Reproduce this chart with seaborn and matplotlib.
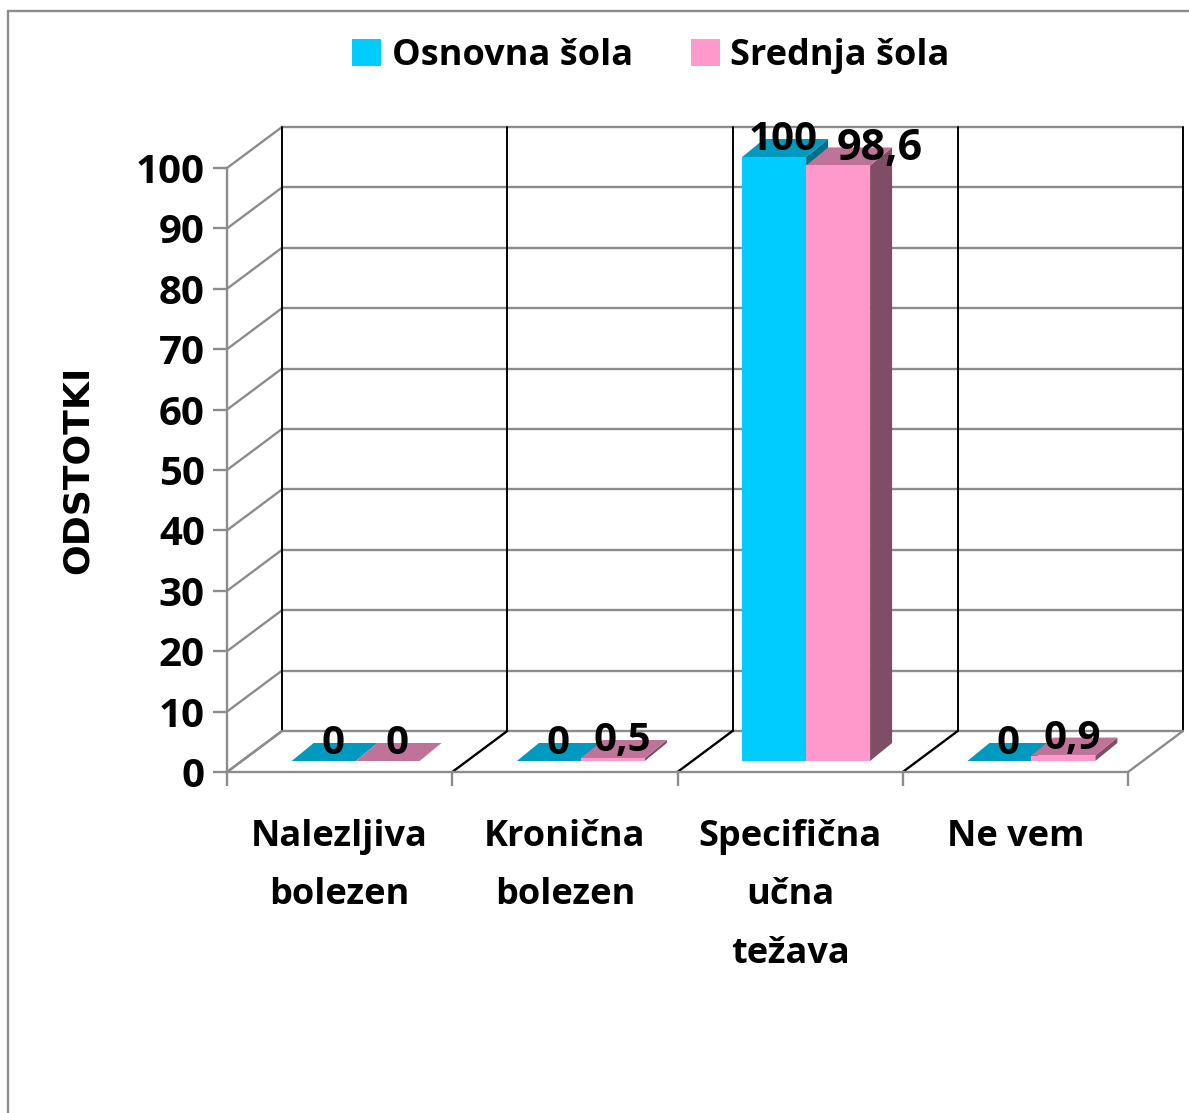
import pandas as pd
import seaborn as sns
import matplotlib.pyplot as plt
from matplotlib.lines import Line2D
from matplotlib.patches import Polygon
from matplotlib.transforms import Affine2D, IdentityTransform

# values
categories = ['Nalezljiva\nbolezen', 'Kronična\nbolezen', 'Specifična\nučna\ntežava', 'Ne vem']
osnovna = [0, 0, 100, 0]
srednja = [0, 0.5, 98.6, 0.9]
series_names = ['Osnovna šola', 'Srednja šola']
y_ticks = list(range(0, 101, 10))

colors = ['#00CCFF', '#FF99CC']
top_colors = ['#0099BF', '#BF7399']
side_colors = ['#006F8A', '#804D66']
GREY = '#8C8C8C'

sns.set_theme(style='white')
plt.rcParams['font.family'] = ['Open Sans', 'DejaVu Sans']
plt.rcParams['font.weight'] = 'bold'
plt.rcParams['text.color'] = 'black'

W, H = 1189, 1113
fig = plt.figure(figsize=(W / 100, H / 100), dpi=100)
ax = fig.add_axes([227 / W, (H - 772) / H, 901 / W, 604 / H])

df = pd.DataFrame({
    'kategorija': categories * 2,
    'odstotek': osnovna + srednja,
    'sola': [series_names[0]] * 4 + [series_names[1]] * 4,
})
sns.barplot(data=df, x='kategorija', y='odstotek', hue='sola', hue_order=series_names,
            palette=colors, saturation=1, width=0.568, gap=0, ax=ax, linewidth=0)

ax.set_xlim(-0.5, 3.5)
ax.set_ylim(0, 100)
ax.patch.set_alpha(0)
for s in ['top', 'right']:
    ax.spines[s].set_visible(False)
for s in ['left', 'bottom']:
    ax.spines[s].set_color(GREY)
    ax.spines[s].set_linewidth(1.7)

# the 3D look: depth in pixels of the walls and the bars
pixel = IdentityTransform()
wall_dx, wall_dy = 55, 41
back = ax.transData + Affine2D().translate(wall_dx, wall_dy)
front_bar = ax.transData + Affine2D().translate(16, 11)
bar_dx, bar_dy = 22, 18

# back wall and left wall
for t in y_ticks:
    ax.plot([-0.5, 3.5], [t, t], color=GREY, lw=1.7, transform=back, clip_on=False, zorder=1)
    x0, y0 = ax.transData.transform((-0.5, t))
    ax.plot([x0, x0 + wall_dx], [y0, y0 + wall_dy], color=GREY, lw=1.7, transform=pixel,
            clip_on=False, zorder=1)

# category walls and floor
for b in [-0.5, 0.5, 1.5, 2.5, 3.5]:
    ax.plot([b, b], [0, 100], color='black', lw=1.4, transform=back, clip_on=False, zorder=1.5)
    x0, y0 = ax.transData.transform((b, 0))
    c = GREY if b in (-0.5, 3.5) else 'black'
    ax.plot([x0, x0 + wall_dx], [y0, y0 + wall_dy], color=c, lw=1.7, transform=pixel,
            clip_on=False, zorder=1.5)

# bars: move the seaborn bars and add their top and side faces
label_nudge = {'98,6': 33}
label_size = {'98,6': 31}
for i, cont in enumerate(ax.containers):
    for bar in cont:
        bar.set_transform(front_bar)
        bar.set_clip_on(False)
        bar.set_zorder(3.1 + i)
        x, h, w = bar.get_x(), bar.get_height(), bar.get_width()
        (xl, yb), (xr, yt) = front_bar.transform([(x, 0), (x + w, h)])
        top = [(xl, yt), (xr, yt), (xr + bar_dx, yt + bar_dy), (xl + bar_dx, yt + bar_dy)]
        side = [(xr, yb), (xr + bar_dx, yb + bar_dy), (xr + bar_dx, yt + bar_dy), (xr, yt)]
        ax.add_patch(Polygon(side, closed=True, fc=side_colors[i], ec='none',
                             transform=pixel, clip_on=False, zorder=3 + i))
        ax.add_patch(Polygon(top, closed=True, fc=top_colors[i], ec='none',
                             transform=pixel, clip_on=False, zorder=3 + i))
        txt = f'{h:g}'.replace('.', ',')
        ax.annotate(txt, (x + w / 2, h), xycoords=front_bar,
                    xytext=((9 + label_nudge.get(txt, 0)) * 0.72, 17 * 0.72),
                    textcoords='offset points', ha='center', va='center',
                    fontsize=label_size.get(txt, 29), fontweight='bold', color='black', zorder=6,
                    annotation_clip=False)

# axes ticks and texts
ax.set_yticks(y_ticks)
ax.set_xticks(range(4))
ax.set_xticklabels(categories, linespacing=1.85)
ax.set_xticks([-0.5, 0.5, 1.5, 2.5, 3.5], minor=True)
ax.tick_params(axis='x', which='major', length=0, pad=33.5, labelsize=26, labelcolor='black')
ax.tick_params(axis='x', which='minor', length=10, width=1.7, color=GREY, bottom=True)
ax.tick_params(axis='y', length=10, width=1.7, color=GREY, pad=6, labelsize=29,
               labelcolor='black', left=True)
ax.set_xlabel('')
ax.set_ylabel('ODSTOTKI', fontsize=26, fontweight='bold', color='black', family='DejaVu Sans')
ax.yaxis.set_label_coords(-0.147, 0.5)

sns.move_legend(ax, 'center', bbox_to_anchor=(651 / W, (H - 56) / H),
                bbox_transform=fig.transFigure, ncol=2, frameon=False, title=None,
                fontsize=26, handlelength=0.8, handleheight=0.8, handletextpad=0.3,
                columnspacing=1.6, borderpad=0)

# chart area border, open to the right and bottom
for xs, ys in [([8, 8], [11, H]), ([8, W], [11, 11])]:
    fig.add_artist(Line2D([v / W for v in xs], [1 - v / H for v in ys], color=GREY, lw=1.7))

fig.savefig('out.png', dpi=100)
